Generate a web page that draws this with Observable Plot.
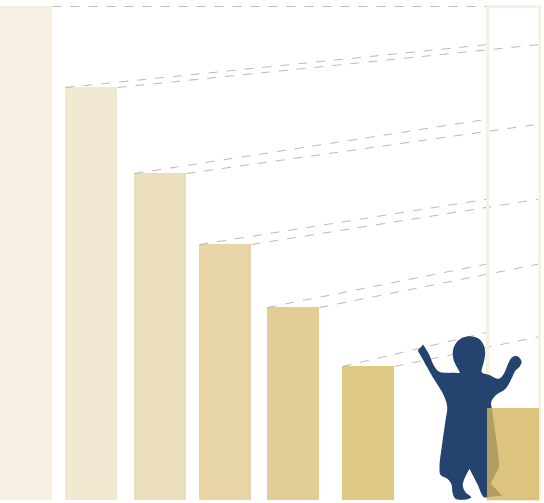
<!DOCTYPE html>
<html>
<head>
<meta charset="utf-8">
<script src="https://cdn.jsdelivr.net/npm/d3@7"></script>
<script src="https://cdn.jsdelivr.net/npm/@observablehq/plot@0.6"></script>
<style>html,body{margin:0;padding:0;background:#fff}svg{display:block}</style>
</head>
<body>
<div id="chart"></div>
<script>
const barLeft  = [0, 65, 134, 199, 267, 342];
const barRight = [52, 117, 186, 251, 319, 394];
const barValue = [494, 413, 327, 256, 193, 134];
const barColor = ["#f6efe2", "#f0e8d1", "#ebdfbb", "#e8d5a5", "#e2cd96", "#dec985"];
const lastBar  = {x1: 487, x2: 539, value: 92};
const ghostBar = {x1: 487.5, x2: 539.5, value: 493.5};
const topLineEnd = 494;
const upperEnd = [456, 381.4, 301.5, 236.7, 168.3];
const lowerEnd = [456, 376.5, 301.5, 236.7, 164];
const personX = [417.3,417.3,422.7,422.7,428.3,433.3,438.3,445,455,459.3,458.3,453.3,452.3,455,461.7,470,478.3,483.3,484.7,483.3,481.3,488.3,498.3,503.3,508.3,511.7,516.7,521,519.3,515,511.7,505,495,490.7,491.7,495,498.3,498.3,493.3,490.7,495,501.7,501.7,486.7,483.3,476.7,469,469,463.3,462.3,465,470.7,463.3,455,452.3,450.7,446.7,440,439,441.7,445,446.7,443.3,433.3];
const personY = [350,350,344,344,353.3,365,371,372.3,372.3,372.3,370,360,351.7,343.3,337.3,335.7,338.3,345,353.3,361.7,371.7,374.3,378.3,373.3,361.7,356.7,355.7,360.7,366,370,376.7,388.3,395,401.7,410,433.3,460,467,476.7,483.3,488.3,495,495,496.7,496.7,483.3,468.3,468.3,480,485,491.7,496.7,499.3,498.3,493.3,483.3,478.3,474.3,466.7,443.3,420,406.7,395,378.3];

const bars = barLeft.map((x1, i) => ({x1, x2: barRight[i], value: barValue[i], color: barColor[i]}));
const person = personX.map((x, i) => ({x, y: 500 - personY[i]}));
const dashes = [{a: 52, b: 539, from: barValue[0], to: topLineEnd}];
bars.slice(1).forEach((b, i) => {
  dashes.push({a: b.x1, b: ghostBar.x1, from: b.value, to: upperEnd[i]});
  dashes.push({a: b.x2, b: ghostBar.x2, from: b.value, to: lowerEnd[i]});
});

const chart = Plot.plot({
  width: 544, height: 503,
  marginTop: 0, marginRight: 0, marginBottom: 3, marginLeft: 0,
  x: {domain: [0, 544], axis: null},
  y: {domain: [0, 500], axis: null},
  style: {background: "#fff"},
  marks: [
    Plot.rectY(bars, {x1: "x1", x2: "x2", y1: 0, y2: "value", fill: "color"}),
    Plot.link(dashes, {x1: "a", x2: "b", y1: "from", y2: "to", stroke: "#a8a8a8", strokeWidth: 0.8, strokeDasharray: "9,9"}),
    Plot.rectY([ghostBar], {x1: "x1", x2: "x2", y1: 0, y2: "value", fill: "none", stroke: "#f6efe2", strokeWidth: 3}),
    Plot.line(person, {x: "x", y: "y", fill: "#24446f", stroke: "none", curve: "catmull-rom-closed"}),
    Plot.rectY([lastBar], {x1: "x1", x2: "x2", y1: 0, y2: "value", fill: "#d3b55f", fillOpacity: 0.8})
  ]
});
document.getElementById("chart").appendChild(chart);
</script>
</body>
</html>
